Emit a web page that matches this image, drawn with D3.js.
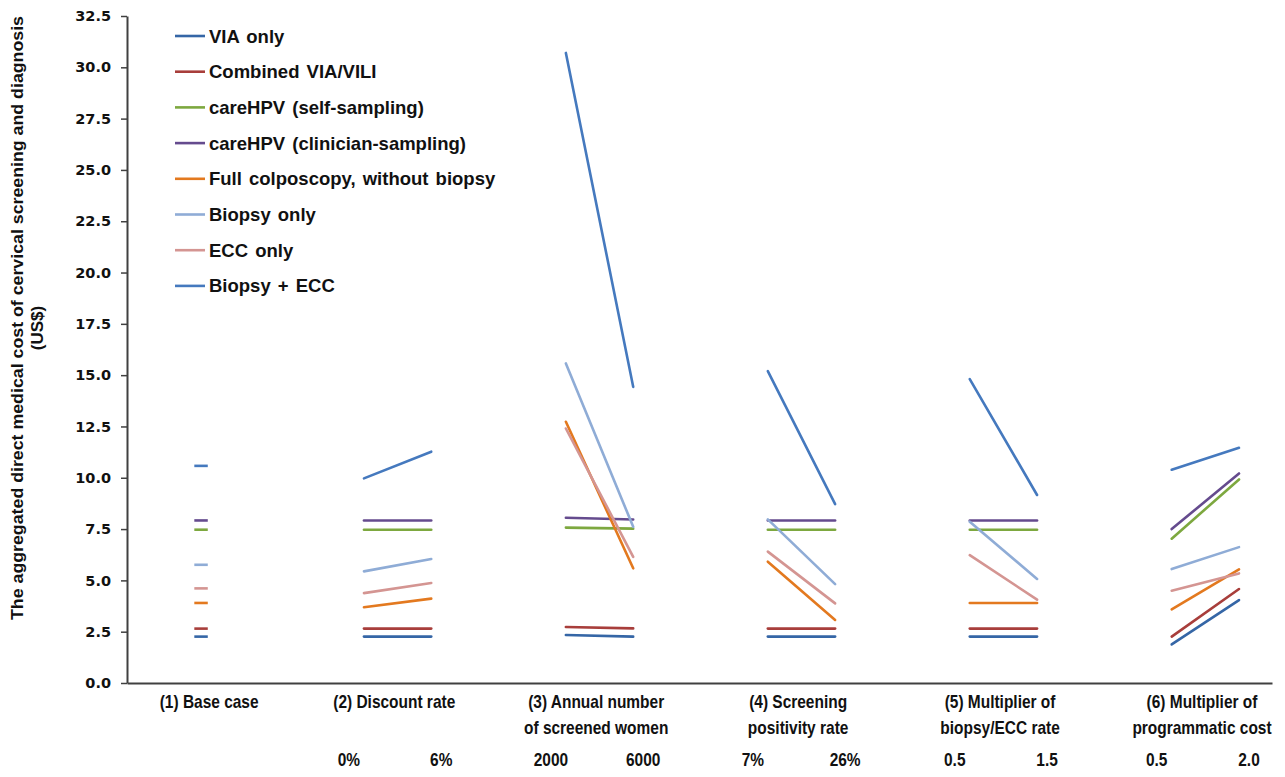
<!DOCTYPE html>
<html>
<head>
<meta charset="utf-8">
<script src="https://cdn.jsdelivr.net/npm/d3@7"></script>
<style>
  html, body { margin: 0; padding: 0; background: #fff; }
  svg { display: block; }
</style>
</head>
<body>
<svg id="chart" width="1285" height="777"></svg>
<script>
// ---------- DATA ----------
const seriesNames = [
  "VIA only",
  "Combined VIA/VILI",
  "careHPV (self-sampling)",
  "careHPV (clinician-sampling)",
  "Full colposcopy, without biopsy",
  "Biopsy only",
  "ECC only",
  "Biopsy + ECC"
];
const seriesColors = ["#3566A6", "#A83E3B", "#7DA83F", "#654B8E", "#E3791F", "#8FACD6", "#D49592", "#4579BE"];

const groupTitles = [
  ["(1) Base case"],
  ["(2) Discount rate"],
  ["(3) Annual number", "of screened women"],
  ["(4) Screening", "positivity rate"],
  ["(5) Multiplier of", "biopsy/ECC rate"],
  ["(6) Multiplier of", "programmatic cost"]
];
const lowLabels  = ["", "0%", "2000", "7%", "0.5", "0.5"];
const highLabels = ["", "6%", "6000", "26%", "1.5", "2.0"];

// base case value per series
const baseCase = [2.26, 2.65, 7.47, 7.92, 3.90, 5.76, 4.61, 10.58];
// low / high values per sensitivity group (groups 2..6), per series
const discountLow   = [2.26, 2.65, 7.47, 7.92, 3.69, 5.44, 4.38, 9.97];
const discountHigh  = [2.26, 2.65, 7.47, 7.92, 4.11, 6.04, 4.87, 11.27];
const womenLow      = [2.34, 2.73, 7.57, 8.05, 12.73, 15.57, 12.40, 30.70];
const womenHigh     = [2.26, 2.66, 7.52, 7.97, 5.59, 7.61, 6.15, 14.43];
const positivityLow = [2.26, 2.65, 7.47, 7.92, 5.91, 7.97, 6.40, 15.20];
const positivityHigh= [2.26, 2.65, 7.47, 7.92, 3.07, 4.82, 3.88, 8.72];
const biopsyLow     = [2.26, 2.65, 7.47, 7.92, 3.90, 7.86, 6.23, 14.81];
const biopsyHigh    = [2.26, 2.65, 7.47, 7.92, 3.90, 5.07, 4.06, 9.16];
const progLow       = [1.88, 2.26, 7.03, 7.50, 3.59, 5.55, 4.50, 10.39];
const progHigh      = [4.04, 4.58, 9.92, 10.21, 5.54, 6.62, 5.34, 11.46];

const groupLows  = [discountLow, womenLow, positivityLow, biopsyLow, progLow];
const groupHighs = [discountHigh, womenHigh, positivityHigh, biopsyHigh, progHigh];

const yTicks = d3.range(0, 32.5 + 0.001, 2.5);

// ---------- LAYOUT ----------
const svg = d3.select("#chart");
const axisColor = "#404040";

// category-unit scale: base case around 0.58, group k (k=2..6) at 3(k-1) and 3(k-1)+1
const x = d3.scaleLinear().domain([-0.52, 16.49]).range([127, 1272]);
const y = d3.scaleLinear().domain([0, 32.5]).range([683, 16]);

const basePos = 0.58;
const lowPos  = k => 3 * (k + 1);      // k = 0..4 for groups 2..6
const highPos = k => 3 * (k + 1) + 1;

// ---------- Y AXIS ----------
const yAxis = d3.axisLeft(y).tickValues(yTicks).tickFormat(d3.format(".1f")).tickSize(6).tickSizeOuter(0).tickPadding(10);
const gy = svg.append("g").attr("transform", `translate(${x(-0.52)},0)`).call(yAxis);
gy.select(".domain").attr("stroke", axisColor).attr("stroke-width", 2);
gy.selectAll(".tick line").attr("stroke", axisColor).attr("stroke-width", 1.5);
gy.selectAll(".tick text")
  .attr("font-family", "DejaVu Sans, sans-serif")
  .attr("font-weight", "bold")
  .attr("font-size", "14.5px")
  .attr("fill", "#111");

// ---------- X AXIS LINE ----------
const gx = svg.append("g").attr("transform", `translate(0,${y(0)})`)
  .call(d3.axisBottom(x).tickValues([]).tickSizeOuter(0));
gx.select(".domain").attr("stroke", axisColor).attr("stroke-width", 2);

// ---------- Y TITLE ----------
const yTitle = svg.append("g")
  .attr("font-family", "Liberation Sans, Arial, sans-serif")
  .attr("font-weight", "bold")
  .attr("font-size", "17px")
  .attr("fill", "#111");
yTitle.append("text")
  .attr("transform", "translate(23,318) rotate(-90)")
  .attr("text-anchor", "middle")
  .attr("textLength", 604)
  .attr("lengthAdjust", "spacingAndGlyphs")
  .text("The aggregated direct medical cost of cervical screening and diagnosis");
yTitle.append("text")
  .attr("transform", "translate(43,328) rotate(-90)")
  .attr("text-anchor", "middle")
  .text("(US$)");

// ---------- LINES ----------
const plot = svg.append("g").attr("fill", "none").attr("stroke-width", 2.6).attr("stroke-linecap", "round");
const lineGen = d3.line().x(d => x(d[0])).y(d => y(d[1]));

seriesNames.forEach((name, s) => {
  const col = seriesColors[s];
  // base case dash
  plot.append("path")
    .attr("stroke", col)
    .attr("stroke-linecap", "butt")
    .attr("d", lineGen([[basePos - 0.1, baseCase[s]], [basePos + 0.1, baseCase[s]]]));
  // sensitivity groups
  groupLows.forEach((lowArr, k) => {
    plot.append("path")
      .attr("stroke", col)
      .attr("d", lineGen([[lowPos(k), lowArr[s]], [highPos(k), groupHighs[k][s]]]));
  });
});

// ---------- CATEGORY LABELS ----------
const labG = svg.append("g")
  .attr("font-family", "Liberation Sans, Arial, sans-serif")
  .attr("font-weight", "bold")
  .attr("font-size", "18px")
  .attr("fill", "#111")
  .attr("text-anchor", "middle");

const groupCenters = [0.7].concat([0, 1, 2, 3, 4].map(k => lowPos(k) + 0.45));
groupTitles.forEach((lines, g) => {
  lines.forEach((t, i) => {
    labG.append("text")
      .attr("transform", `translate(${x(groupCenters[g])},${708 + i * 26}) scale(0.86,1)`)
      .text(t);
  });
});
[0, 1, 2, 3, 4].forEach(k => {
  labG.append("text")
    .attr("transform", `translate(${x(lowPos(k)) - 15},766) scale(0.86,1)`)
    .text(lowLabels[k + 1]);
  labG.append("text")
    .attr("transform", `translate(${x(highPos(k)) + 10},766) scale(0.86,1)`)
    .text(highLabels[k + 1]);
});

// ---------- LEGEND ----------
const leg = svg.append("g")
  .attr("font-family", "Liberation Sans, Arial, sans-serif")
  .attr("font-weight", "bold")
  .attr("font-size", "18.5px")
  .attr("fill", "#111");
seriesNames.forEach((name, s) => {
  const cy = 36 + s * 35.7;
  leg.append("line")
    .attr("x1", 175).attr("x2", 205).attr("y1", cy).attr("y2", cy)
    .attr("stroke", seriesColors[s]).attr("stroke-width", 2.6);
  leg.append("text")
    .attr("x", 209).attr("y", cy + 6.5)
    .attr("word-spacing", "2px")
    .text(name);
});
</script>
</body>
</html>
